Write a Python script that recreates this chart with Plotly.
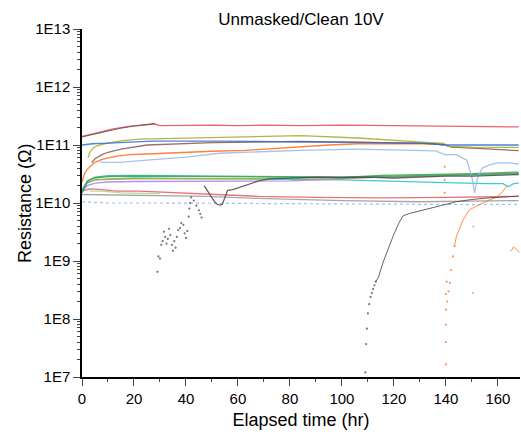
import plotly.graph_objects as go

# hours / resistance (ohm)
red_top_t = [0, 4, 8, 12, 18, 24, 28, 30, 40, 50, 60, 70, 84, 100, 120, 140, 155, 168]
red_top_v = [1.4e11, 1.55e11, 1.75e11, 1.9e11, 2.1e11, 2.25e11, 2.3e11, 2.15e11, 2.18e11, 2.2e11,
             2.15e11, 2.2e11, 2.15e11, 2.2e11, 2.15e11, 2.1e11, 2.1e11, 2.05e11]

black_top_t = [0, 5, 10, 15, 20, 25, 28]
black_top_v = [1.38e11, 1.55e11, 1.75e11, 1.95e11, 2.12e11, 2.28e11, 2.35e11]

black_dots_t = [29, 29.4, 30, 30.5, 31, 31.5, 32, 32.5, 33, 33.5, 34, 34.6, 35, 35.5, 36, 36.5, 37,
                37.7, 38.2, 39, 39.5, 40, 40.5, 41, 41.3, 41.6, 42, 43, 44, 45, 45.5, 46]
black_dots_v = [6.5e8, 1.2e9, 1.1e9, 1.9e9, 2.2e9, 3.2e9, 2.6e9, 2.0e9, 2.4e9, 3.6e9, 2.8e9, 1.9e9,
                1.5e9, 2.2e9, 1.7e9, 2.6e9, 3.4e9, 3.7e9, 4.5e9, 4.2e9, 3.0e9, 2.5e9, 3.3e9, 5.8e9,
                8.0e9, 1.0e10, 1.25e10, 1.1e10, 9.0e9, 7.5e9, 6.5e9, 5.6e9]

black_mid_t = [47, 48, 49, 50, 51, 52, 53, 54, 55, 56, 58, 61, 64, 68, 72, 80, 90, 100, 110, 120,
               130, 140, 150, 160, 168]
black_mid_v = [2.0e10, 1.7e10, 1.4e10, 1.2e10, 1.05e10, 9.5e9, 9.2e9, 9.5e9, 1.3e10, 1.65e10,
               1.7e10, 1.9e10, 2.1e10, 2.4e10, 2.6e10, 2.7e10, 2.8e10, 2.75e10, 2.8e10, 2.7e10,
               2.8e10, 2.9e10, 2.9e10, 3.0e10, 3.1e10]

black_rec_dots_t = [109, 109.3, 109.6, 110, 110.5, 111, 111.5, 112, 112.5, 113]
black_rec_dots_v = [1.2e7, 3.7e7, 6.8e7, 1.25e8, 1.8e8, 2.4e8, 2.8e8, 3.3e8, 3.8e8, 4.4e8]
black_rec_t = [113, 114, 116, 118.5, 120, 122, 123.5, 126, 131, 138, 144, 150, 157, 163, 168]
black_rec_v = [4.4e8, 5.2e8, 1.0e9, 2.0e9, 2.9e9, 4.6e9, 6.0e9, 6.6e9, 7.6e9, 9.0e9, 1.05e10,
               1.15e10, 1.23e10, 1.28e10, 1.32e10]

blue_t = [0, 4, 8, 15, 27, 50, 84, 106, 120, 131, 140, 150, 168]
blue_v = [1.0e11, 1.05e11, 1.07e11, 1.1e11, 1.17e11, 1.17e11, 1.12e11, 1.1e11, 1.1e11, 1.08e11,
          1.0e11, 1.0e11, 1.0e11]

olive_t = [2.3, 3, 4.3, 6, 9.5, 15, 22, 38, 63, 84, 106, 131, 139, 141, 150, 168]
olive_v = [6.0e10, 7.5e10, 8.9e10, 9.8e10, 1.07e11, 1.18e11, 1.26e11, 1.32e11, 1.38e11, 1.45e11,
           1.32e11, 1.12e11, 1.07e11, 9.5e10, 9.2e10, 9.1e10]

brown_t = [3.8, 5, 7.7, 10, 15, 25, 50, 84, 106, 131, 139, 142, 150, 168]
brown_v = [5.0e10, 5.8e10, 6.8e10, 7.5e10, 8.5e10, 1.0e11, 1.1e11, 1.15e11, 1.12e11, 1.07e11,
           1.02e11, 9.2e10, 8.8e10, 8.0e10]

orange_t = [0, 1, 2, 3, 4.6, 7, 10, 14, 18.5, 25, 31, 38, 43, 50, 63, 70, 84, 95, 106, 120, 130,
            136.5, 139]
orange_v = [2.3e10, 3.2e10, 3.8e10, 4.2e10, 4.9e10, 5.5e10, 6.0e10, 6.5e10, 6.8e10, 7.0e10, 7.2e10,
            7.4e10, 7.6e10, 7.8e10, 8.1e10, 8.5e10, 9.5e10, 1.0e11, 1.05e11, 1.05e11, 1.05e11,
            1.05e11, 1.0e11]
orange_dots_t = [139.5, 139.5, 139.5, 140, 140, 140, 140, 140, 140.3, 140.5, 141, 141.5, 142, 142.7,
                 143.3]
orange_dots_v = [4.2e10, 2.5e10, 1.5e10, 1.65e7, 4.0e7, 8.0e7, 1.45e8, 2.7e8, 4.4e8, 2.0e8, 3.0e8,
                 4.2e8, 7.0e8, 1.2e9, 1.8e9]
orange_rec_t = [143.3, 144, 146.5, 149, 151, 154, 157, 159.6, 162, 163.5]
orange_rec_v = [1.8e9, 2.6e9, 5.0e9, 7.6e9, 8.5e9, 1.0e10, 1.15e10, 1.26e10, 1.6e10, 2.0e10]
orange_tail_t = [164.6, 165.3, 166, 166.8, 167.7, 168.3]
orange_tail_v = [1.45e9, 1.55e9, 1.75e9, 1.6e9, 1.45e9, 1.4e9]

ltblue_t = [7, 14.6, 25, 40, 53, 70, 84, 106, 120, 136, 139.6, 144, 148, 149, 150, 151, 152, 154,
            157, 160, 164.6, 168]
ltblue_v = [5.0e10, 5.0e10, 5.5e10, 6.2e10, 7.2e10, 7.8e10, 8.1e10, 8.5e10, 8.3e10, 7.9e10, 6.8e10,
            6.8e10, 5.5e10, 4.0e10, 2.8e10, 1.5e10, 2.6e10, 4.0e10, 4.6e10, 4.9e10, 4.9e10, 4.7e10]
ltblue_dots_t = [150.4, 150.6]
ltblue_dots_v = [2.8e8, 3.9e9]

green_t = [0, 1, 2, 3, 5, 10, 20, 40, 60, 80, 100, 115, 130, 140, 150, 166, 168]
green_v = [1.6e10, 2.0e10, 2.3e10, 2.5e10, 2.7e10, 2.85e10, 2.9e10, 2.85e10, 2.8e10, 2.8e10,
           2.75e10, 3.0e10, 3.1e10, 3.1e10, 3.2e10, 3.4e10, 3.4e10]
teal_t = [0, 2, 5, 10, 20, 40, 60, 80, 100, 120, 140, 168]
teal_v = [1.5e10, 2.4e10, 2.8e10, 2.95e10, 3.0e10, 2.95e10, 2.85e10, 2.8e10, 2.8e10, 2.9e10,
          3.0e10, 3.2e10]
gold_t = [0, 2, 5, 10, 20, 40, 60, 80, 100, 120, 140, 168]
gold_v = [1.7e10, 2.3e10, 2.5e10, 2.55e10, 2.6e10, 2.6e10, 2.6e10, 2.65e10, 2.7e10, 2.85e10,
          3.0e10, 3.2e10]
purple_t = [0, 2, 5, 10, 20, 40, 60, 80, 100, 114, 140, 166, 168]
purple_v = [1.5e10, 2.0e10, 2.2e10, 2.3e10, 2.35e10, 2.35e10, 2.35e10, 2.4e10, 2.6e10, 2.8e10,
            3.0e10, 3.3e10, 3.3e10]
cyan_t = [0, 2, 5, 10, 20, 40, 60, 80, 100, 114, 130, 140, 155, 162, 164, 166, 168]
cyan_v = [1.5e10, 2.2e10, 2.5e10, 2.6e10, 2.7e10, 2.65e10, 2.6e10, 2.55e10, 2.5e10, 2.4e10,
          2.3e10, 2.2e10, 2.15e10, 2.15e10, 1.9e10, 2.15e10, 2.2e10]

red_low_t = [0, 3, 8, 13, 22, 35, 48, 68, 90, 115, 140, 168]
red_low_v = [1.6e10, 1.75e10, 1.7e10, 1.6e10, 1.6e10, 1.5e10, 1.4e10, 1.3e10, 1.25e10, 1.23e10,
             1.25e10, 1.3e10]
gray_t = [0, 20, 48, 68, 100, 130, 168]
gray_v = [1.4e10, 1.35e10, 1.3e10, 1.2e10, 1.1e10, 1.05e10, 1.1e10]
ltblue_low_t = [0, 10, 30, 60, 90, 120, 150, 168]
ltblue_low_v = [1.05e10, 1.0e10, 1.0e10, 9.8e9, 9.6e9, 9.5e9, 9.4e9, 9.5e9]
ltgreen_t = [3, 8, 15, 25, 30]
ltgreen_v = [1.6e10, 1.6e10, 1.5e10, 1.45e10, 1.45e10]

fig = go.Figure()


def add_line(t, v, color, width=1.3, dash="solid"):
    fig.add_trace(go.Scatter(x=t, y=v, mode="lines", line=dict(color=color, width=width, dash=dash),
                             opacity=0.85, showlegend=False))


def add_dots(t, v, color, size=2.2):
    fig.add_trace(go.Scatter(x=t, y=v, mode="markers", marker=dict(color=color, size=size),
                             opacity=0.8, showlegend=False))


add_line(ltblue_low_t, ltblue_low_v, "#8fb4ec", 1.2, "dot")
add_line(gray_t, gray_v, "#9a9a9a")
add_line(red_low_t, red_low_v, "#e8595f")
add_line(ltgreen_t, ltgreen_v, "#a6d68a")
add_line(cyan_t, cyan_v, "#1fc3cd")
add_line(purple_t, purple_v, "#b07ce6")
add_line(gold_t, gold_v, "#c9a227")
add_line(teal_t, teal_v, "#26b59a")
add_line(green_t, green_v, "#3aa63a")
add_line(ltblue_t, ltblue_v, "#9ab8e6")
add_dots(ltblue_dots_t, ltblue_dots_v, "#9ab8e6")
add_line(orange_t, orange_v, "#ff6a13")
add_dots(orange_dots_t, orange_dots_v, "#ff7a2a")
add_line(orange_rec_t, orange_rec_v, "#ff7a2a", 1.0)
add_line(orange_tail_t, orange_tail_v, "#ff7a2a", 1.0)
add_line(brown_t, brown_v, "#8c564b")
add_line(olive_t, olive_v, "#a8a82a")
add_line(blue_t, blue_v, "#2a6fd6")
add_line(red_top_t, red_top_v, "#ea4a55")
add_line(black_top_t, black_top_v, "#555555", 1.0)
add_dots(black_dots_t, black_dots_v, "#555555")
add_line(black_mid_t, black_mid_v, "#4a4a4a")
add_dots(black_rec_dots_t, black_rec_dots_v, "#555555")
add_line(black_rec_t, black_rec_v, "#4a4a4a", 1.0)

font = "Liberation Sans, Arial, sans-serif"
minor_y = [k * 10 ** e for e in range(7, 13) for k in range(2, 10)]

fig.update_layout(
    width=521, height=435,
    margin=dict(l=82, r=1, t=29, b=58, autoexpand=False),
    plot_bgcolor="white", paper_bgcolor="white",
    font=dict(family=font, size=15, color="black"),
    title=dict(text="Unmasked/Clean 10V", x=0.5, xref="paper", y=1 - 19 / 435, yanchor="middle",
               font=dict(size=17), automargin=False),
    xaxis=dict(range=[0, 168.5], tickvals=[0, 20, 40, 60, 80, 100, 120, 140, 160], automargin=False,
               ticks="outside", ticklen=7, tickwidth=1.3, showline=True, linecolor="black",
               linewidth=1.5, showgrid=False, zeroline=False,
               minor=dict(tickvals=[10, 30, 50, 70, 90, 110, 130, 150], ticks="outside",
                          ticklen=3.5, tickwidth=1.2),
               title=dict(text="Elapsed time (hr)", font=dict(size=18), standoff=8)),
    yaxis=dict(type="log", range=[7, 13], automargin=False,
               tickvals=[1e7, 1e8, 1e9, 1e10, 1e11, 1e12, 1e13],
               ticktext=["1E7", "1E8", "1E9", "1E10", "1E11", "1E12", "1E13"],
               ticks="outside", ticklen=7, tickwidth=1.3, showline=True, linecolor="black",
               linewidth=1.5, showgrid=False, zeroline=False,
               minor=dict(tickvals=minor_y, ticks="outside", ticklen=3.5, tickwidth=1)),
)

# y title as an annotation so it can sit closer to the tick labels
fig.add_annotation(text="Resistance (Ω)", textangle=-90, xref="paper", yref="paper",
                   x=(25 - 82) / 438, y=0.5, xanchor="center", yanchor="middle",
                   showarrow=False, font=dict(size=18))

# the page body has a default 8px margin; drop it so the figure sits at the window's corner
fig.write_html("out.html", config={"displayModeBar": False},
               post_script="document.body.style.margin='0';")
